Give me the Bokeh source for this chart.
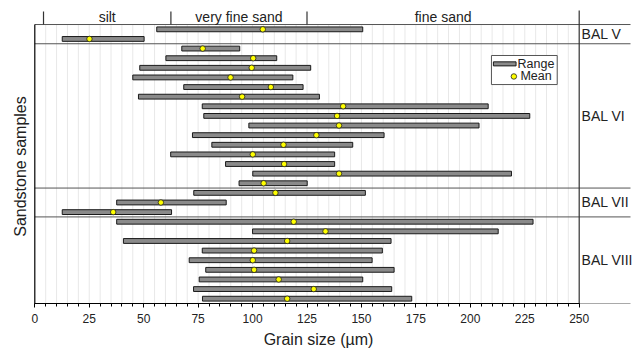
import numpy as np
from bokeh.plotting import figure
from bokeh.models import Range1d, SingleIntervalTicker, ColumnDataSource
from bokeh.core.properties import value
from bokeh.embed import file_html
from bokeh.resources import INLINE

# ---------------- data ----------------
groups = ["BAL V", "BAL VI", "BAL VII", "BAL VIII"]
group_sizes = [2, 15, 3, 9]
size_classes = ["silt", "very fine sand", "fine sand"]
class_bounds = [4, 62.5, 125, 250]

low = [56.0, 12.6,
       67.5, 60.2, 48.2, 45.0, 68.4, 47.6, 76.9, 77.6, 98.3, 72.4, 81.3, 62.4, 87.6, 100.1, 93.8,
       73.0, 37.6, 12.6,
       37.6, 100.0, 40.7, 76.9, 70.9, 78.5, 75.5, 72.9, 77.0]
high = [150.6, 50.2,
        94.1, 111.1, 126.7, 118.5, 123.2, 130.7, 208.2, 227.3, 204.0, 160.4, 146.0, 137.7, 137.7, 218.9, 125.1,
        151.8, 87.9, 62.8,
        228.8, 212.8, 163.6, 159.6, 154.9, 165.0, 150.6, 163.9, 173.1]
mean = [104.7, 25.1,
        77.1, 100.3, 99.6, 89.9, 108.4, 95.2, 141.6, 138.8, 139.7, 129.3, 114.2, 100.1, 114.5, 139.7, 105.1,
        110.5, 57.9, 36.0,
        118.9, 133.5, 115.9, 100.7, 100.1, 100.7, 112.0, 128.1, 115.9]

x_ticks_interval = 25
# ---------------------------------------

FONT = "Liberation Sans"
n = len(low)
rows = [n - 0.5 - i for i in range(n)]

PXU = 2.1776      # px per micron
PXR = 9.62        # px per row
W, H = 636, 355
BOTTOM = 52
x_start = -34.3 / PXU
y_top = (H - BOTTOM) / PXR


def ypage(py):
    return y_top - py / PXR


p = figure(width=W, height=H,
           x_range=Range1d(x_start, x_start + W / PXU),
           y_range=Range1d(0, y_top),
           output_backend="svg", toolbar_location=None,
           y_axis_location=None,
           min_border_left=0, min_border_right=0, min_border_top=0, min_border_bottom=BOTTOM)
p.outline_line_color = None
p.background_fill_color = "white"
p.border_fill_color = "white"
p.xgrid.visible = False
for g in p.ygrid:
    g.visible = False

# x axis
ax = p.xaxis[0]
ax.ticker = SingleIntervalTicker(interval=x_ticks_interval, num_minor_ticks=5)
ax.bounds = (0, 250)
ax.axis_line_color = "black"
ax.axis_line_width = 1.2
ax.major_tick_out = 4
ax.major_tick_in = 0
ax.minor_tick_out = 3
ax.minor_tick_in = 0
ax.major_tick_line_color = "black"
ax.minor_tick_line_color = "black"
ax.major_label_text_font = FONT
ax.major_label_text_font_size = "12px"
ax.major_label_text_color = "#222222"
ax.major_label_standoff = 6
ax.axis_label = "Grain size (µm)"
ax.axis_label_text_font = FONT
ax.axis_label_text_font_size = "16px"
ax.axis_label_text_font_style = "normal"
ax.axis_label_text_color = "#222222"
ax.axis_label_standoff = 5

# vertical grid lines
gx = np.arange(5, 250, 5)
p.segment(x0=gx, y0=0, x1=gx, y1=n, line_color="#e8e8e8", line_width=1)

# horizontal separators
ends = np.cumsum(group_sizes)
sep_y = [n] + [n - e for e in ends]
x_far = (630 - 34.3) / PXU
p.segment(x0=0, y0=sep_y, x1=x_far, y1=sep_y, line_color="#555555", line_width=1)

# left line
p.segment(x0=[0], y0=[0], x1=[0], y1=[n], line_color="black", line_width=1.2)
# right line
p.segment(x0=[250], y0=[0], x1=[250], y1=[ypage(10)], line_color="#333333", line_width=1.2)
# header separators
hb = class_bounds[:-1]
p.segment(x0=hb, y0=n, x1=hb, y1=ypage(11), line_color="#333333", line_width=1.2)

# header labels
cx = [(class_bounds[i] + class_bounds[i + 1]) / 2 for i in range(len(size_classes))]
p.text(x=cx, y=[ypage(16.2)] * len(cx), text=size_classes,
       text_font=value(FONT), text_font_size="14px", text_color="#222222",
       text_align="center", text_baseline="middle")

# group labels
starts = np.concatenate([[0], ends[:-1]])
gy = [n - (s + e) / 2 for s, e in zip(starts, ends)]
p.text(x=[251.1] * len(groups), y=gy, text=groups,
       text_font=value(FONT), text_font_size="14px", text_color="#222222",
       text_align="left", text_baseline="middle")

# y label
p.text(x=[-6.6], y=[ypage(166)], text=["Sandstone samples"], angle=np.pi / 2,
       text_font=value(FONT), text_font_size="16px", text_color="#222222",
       text_align="center", text_baseline="middle")

# bars + means
src = ColumnDataSource(dict(y=rows, low=low, high=high, mean=mean))
p.hbar(y="y", left="low", right="high", height=0.5, source=src,
       fill_color="#8a8a8a", line_color="#1a1a1a", line_width=1)
p.scatter(x="mean", y="y", source=src, size=5.5, fill_color="#ffff00",
          line_color="#222222", line_width=0.8)

# legend (manual)
p.quad(left=[209.7], right=[239.9], bottom=[22.76], top=[25.78],
       fill_color="white", line_color="#555555", line_width=1)
p.hbar(y=[24.91], left=[210.6], right=[221.0], height=0.42,
       fill_color="#8a8a8a", line_color="#1a1a1a", line_width=1)
p.scatter(x=[220.0], y=[23.6], size=5.5, fill_color="#ffff00",
          line_color="#222222", line_width=0.8)
p.text(x=[221.7, 223.0], y=[24.91, 23.6], text=["Range", "Mean"],
       text_font=value(FONT), text_font_size="12.5px", text_color="#222222",
       text_align="left", text_baseline="middle")

open("out.html", "w").write(file_html(p, INLINE))
